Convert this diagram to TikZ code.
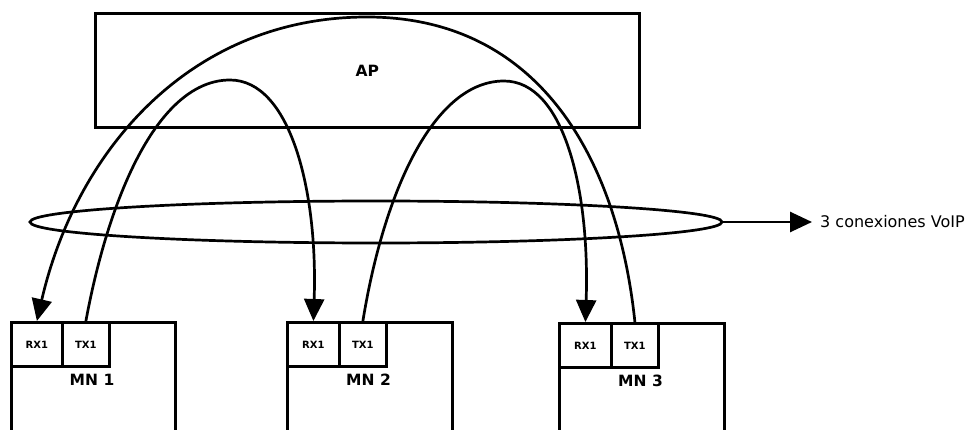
\documentclass[tikz,border=0pt]{standalone}
\usepackage{fontspec}
\setmainfont{DejaVu Sans}
\usetikzlibrary{arrows.meta,shapes.geometric}
\begin{document}
\begin{tikzpicture}[x=1pt,y=-1pt,
  box/.style={draw, line width=2.8pt, inner sep=0pt, anchor=north west},
  port/.style={box, font=\bfseries\fontsize{10}{11}\selectfont},
  lbl/.style={font=\bfseries\fontsize{15.5}{17}\selectfont, inner sep=0pt},
  arr/.style={line width=2.7pt, -{Triangle[length=22pt,width=20pt]}}
]
\clip (0,0) rectangle (969,430);
\fill[white] (0,0) rectangle (969,430);
% AP
\node[box, minimum width=544pt, minimum height=114pt] (ap) at (94,12) {};
\node[lbl] (aplbl) at (ap.center) {AP};
% MN 1
\node[box, minimum width=164pt, minimum height=140pt] (mn1) at (10,321) {};
\node[port, minimum width=51pt, minimum height=44pt] (rx1) at (10,321) {RX1};
\node[port, minimum width=47pt, minimum height=44pt] (tx1) at (61,321) {TX1};
\node[lbl] (mn1l) at (92,380) {MN 1};
% MN 2
\node[box, minimum width=165pt, minimum height=140pt] (mn2) at (286,321) {};
\node[port, minimum width=52pt, minimum height=44pt] (rx2) at (286,321) {RX1};
\node[port, minimum width=47pt, minimum height=44pt] (tx2) at (338,321) {TX1};
\node[lbl] (mn2l) at (368.5,380) {MN 2};
% MN 3
\node[box, minimum width=165pt, minimum height=140pt] (mn3) at (558,322) {};
\node[port, minimum width=52pt, minimum height=44pt] (rx3) at (558,322) {RX1};
\node[port, minimum width=47pt, minimum height=44pt] (tx3) at (610,322) {TX1};
\node[lbl] (mn3l) at (640.5,381) {MN 3};
% ellipse and label
\node[draw, line width=2.7pt, ellipse, inner sep=0pt, minimum width=692pt, minimum height=42pt] (ell) at (376,222) {};
\node[anchor=west, inner sep=0pt, font=\fontsize{16}{18}\selectfont] (voip) at (820,222) {3 conexiones VoIP};
\draw[arr] (ell.east) -- ([xshift=-8pt]voip.west);
% connections
\draw[arr] (tx1.north) .. controls (110,191) and (160,80) .. (230,80)
  .. controls (290,80) and (318,190) .. (rx2.north);
\draw[arr] (tx2.north) .. controls (384,191) and (434,81) .. (504,81)
  .. controls (564,81) and (590,190) .. (rx3.north);
\draw[arr] (tx3.north) .. controls (618,160) and (540,17) .. (367,17)
  .. controls (190,17) and (76,151) .. (rx1.north);
\end{tikzpicture}
\end{document}
